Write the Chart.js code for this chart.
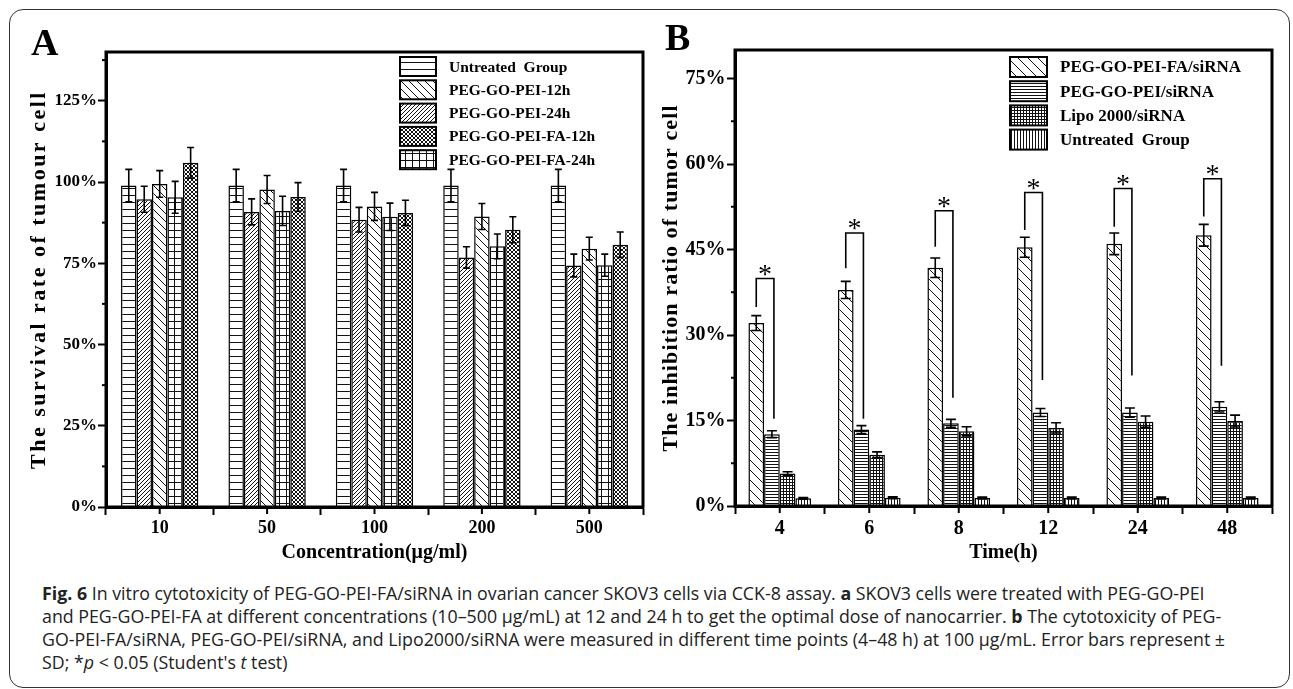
<!DOCTYPE html>
<html>
<head>
<meta charset="utf-8">
<script src="https://cdn.jsdelivr.net/npm/chart.js@4.4.1/dist/chart.umd.min.js"></script>
<style>
  html, body { margin: 0; padding: 0; background: #fff; }
  body { width: 1293px; height: 689px; position: relative; overflow: hidden; }
  #frame { position: absolute; left: 9px; top: 9px; width: 1281px; height: 679px; box-sizing: border-box;
           border: 1.5px solid #333; border-radius: 14px; }
  #chartA { position: absolute; left: 0; top: 0; }
  #chartB { position: absolute; left: 640px; top: 0; }
  #caption { position: absolute; left: 42px; top: 582px; font-family: "Open Sans", sans-serif; font-size: 17.8px;
             line-height: 23px; color: #222; white-space: nowrap; }
</style>
</head>
<body>
<div id="frame"></div>
<canvas id="chartA" width="650" height="580"></canvas>
<canvas id="chartB" width="653" height="580"></canvas>
<div id="caption">
<b>Fig. 6</b> In vitro cytotoxicity of PEG-GO-PEI-FA/siRNA in ovarian cancer SKOV3 cells via CCK-8 assay. <b>a</b> SKOV3 cells were treated with PEG-GO-PEI<br>
and PEG-GO-PEI-FA at different concentrations (10–500 μg/mL) at 12 and 24 h to get the optimal dose of nanocarrier. <b>b</b> The cytotoxicity of PEG-<br>
GO-PEI-FA/siRNA, PEG-GO-PEI/siRNA, and Lipo2000/siRNA were measured in different time points (4–48 h) at 100 μg/mL. Error bars represent ±<br>
SD; *<i>p</i> &lt; 0.05 (Student's <i>t</i> test)
</div>
<script>
// ---- panel A data (survival rate, %)
const concLabels = ['10', '50', '100', '200', '500'];
const untreatedA = [98.9, 98.9, 98.9, 98.9, 98.9];
const untreatedAErr = [5.0, 5.0, 5.0, 5.0, 5.0];
const pei24h = [94.7, 90.8, 88.4, 76.8, 74.3];
const pei24hErr = [4.0, 4.0, 3.8, 3.3, 3.5];
const pei12h = [99.4, 97.7, 92.5, 89.4, 79.5];
const pei12hErr = [4.1, 4.3, 4.3, 4.0, 3.5];
const fa24h = [95.3, 91.1, 89.3, 80.2, 74.4];
const fa24hErr = [4.9, 4.5, 4.2, 3.8, 3.4];
const fa12h = [105.9, 95.4, 90.5, 85.3, 80.7];
const fa12hErr = [4.7, 4.4, 3.9, 4.0, 3.9];

// ---- panel B data (inhibition ratio, %)
const timeLabels = ['4', '6', '8', '12', '24', '48'];
const faSiRNA = [32.1, 37.9, 41.8, 45.4, 46.0, 47.5];
const faSiRNAErr = [1.3, 1.5, 1.7, 1.75, 1.9, 1.9];
const peiSiRNA = [12.6, 13.4, 14.5, 16.4, 16.4, 17.4];
const peiSiRNAErr = [0.6, 0.7, 0.7, 0.7, 0.8, 0.9];
const lipoSiRNA = [5.7, 9.0, 13.1, 13.7, 14.8, 14.9];
const lipoSiRNAErr = [0.3, 0.5, 0.8, 0.9, 1.0, 1.05];
const untreatedB = [1.35, 1.45, 1.4, 1.4, 1.4, 1.4];
const untreatedBErr = [0.15, 0.15, 0.15, 0.15, 0.15, 0.15];
// significance brackets: top of bracket, bottom of left leg, bottom of right leg
const sigTop = [39.9, 47.9, 51.8, 55.0, 55.7, 57.4];
const sigLeft = [34.9, 41.7, 45.5, 48.4, 49.0, 50.8];
const sigRight = [15.3, 15.3, 19.0, 22.1, 22.9, 24.6];

function makePattern(kind, w, h) {
  h = h || w;
  const c = document.createElement('canvas');
  c.width = w; c.height = h;
  const g = c.getContext('2d');
  g.fillStyle = '#fff';
  g.fillRect(0, 0, w, h);
  g.strokeStyle = '#111';
  g.lineWidth = 1;
  g.beginPath();
  if (kind === 'h' || kind === 'grid') { g.moveTo(0, h - 0.5); g.lineTo(w, h - 0.5); }
  if (kind === 'v' || kind === 'grid') { g.moveTo(w - 0.5, 0); g.lineTo(w - 0.5, h); }
  if (kind === 'back' || kind === 'cross') {
    g.moveTo(-1, -1); g.lineTo(w + 1, h + 1);
    g.moveTo(-1, h - 1); g.lineTo(1, h + 1);
    g.moveTo(w - 1, -1); g.lineTo(w + 1, 1);
  }
  if (kind === 'fwd' || kind === 'cross') {
    g.moveTo(-1, h + 1); g.lineTo(w + 1, -1);
    g.moveTo(-1, 1); g.lineTo(1, -1);
    g.moveTo(w - 1, h + 1); g.lineTo(w + 1, h - 1);
  }
  g.stroke();
  return g.createPattern(c, 'repeat');
}

const serif = '"Liberation Serif", "Times New Roman", serif';
Chart.defaults.font.family = serif;
Chart.defaults.color = '#000';

// error bars, frame, minor ticks, y title, panel letter, legend
const decor = {
  id: 'decor',
  afterDatasetsDraw(chart, args, o) {
    const { ctx, scales: { y } } = chart;
    ctx.save();
    ctx.strokeStyle = '#000';
    ctx.lineWidth = 1.6;
    chart.data.datasets.forEach((ds, i) => {
      chart.getDatasetMeta(i).data.forEach((bar, j) => {
        const v = ds.data[j], e = ds.errorValues[j];
        const t = y.getPixelForValue(v + e), b = y.getPixelForValue(v - e);
        ctx.beginPath();
        ctx.moveTo(bar.x, t); ctx.lineTo(bar.x, b);
        ctx.moveTo(bar.x - o.cap, t); ctx.lineTo(bar.x + o.cap, t);
        ctx.moveTo(bar.x - o.cap, b); ctx.lineTo(bar.x + o.cap, b);
        ctx.stroke();
      });
    });
    ctx.restore();
  },
  afterDraw(chart, args, o) {
    const { ctx, chartArea: a, scales: { x, y } } = chart;
    ctx.save();
    ctx.strokeStyle = '#000';
    ctx.lineWidth = 3;
    ctx.strokeRect(a.left, a.top, a.right - a.left, a.bottom - a.top);
    ctx.lineWidth = 2;
    for (let v = o.minorStep; v < y.max; v += o.minorStep * 2) {
      const py = y.getPixelForValue(v);
      ctx.beginPath(); ctx.moveTo(a.left - 4, py); ctx.lineTo(a.left, py); ctx.stroke();
    }
    x.ticks.forEach((t, i) => {
      const px = x.getPixelForTick(i);
      ctx.beginPath(); ctx.moveTo(px, a.bottom); ctx.lineTo(px, a.bottom + 7); ctx.stroke();
    });
    // y title
    ctx.fillStyle = '#000';
    ctx.save();
    ctx.translate(o.titleX, (a.top + a.bottom) / 2);
    ctx.rotate(-Math.PI / 2);
    ctx.font = 'bold 22px ' + serif;
    ctx.letterSpacing = o.titleSpacing;
    ctx.textAlign = 'center';
    ctx.textBaseline = 'middle';
    ctx.fillText(o.yTitle, 0, 0);
    ctx.restore();
    // panel letter
    ctx.font = 'bold 38px ' + serif;
    ctx.textBaseline = 'alphabetic';
    ctx.fillText(o.letter, o.letterX, o.letterY);
    // legend
    const L = o.legend;
    ctx.font = 'bold ' + L.fontSize + 'px ' + serif;
    ctx.textBaseline = 'middle';
    L.order.forEach((di, k) => {
      const ds = chart.data.datasets[di];
      const bx = a.right - L.fromRight, by = a.top + L.top + k * L.rowH;
      ctx.fillStyle = ds.backgroundColor;
      ctx.fillRect(bx, by, L.boxW, L.boxH);
      ctx.lineWidth = 2;
      ctx.strokeRect(bx, by, L.boxW, L.boxH);
      ctx.fillStyle = '#000';
      ctx.fillText(ds.label, bx + L.boxW + L.gap, by + L.boxH / 2 + 1);
    });
    ctx.restore();
  }
};

const brackets = {
  id: 'brackets',
  afterDatasetsDraw(chart) {
    const { ctx, scales: { y } } = chart;
    const m0 = chart.getDatasetMeta(0), m1 = chart.getDatasetMeta(1);
    ctx.save();
    ctx.strokeStyle = '#000';
    ctx.fillStyle = '#000';
    ctx.lineWidth = 1.6;
    sigTop.forEach((top, j) => {
      const xl = m0.data[j].x, xr = m1.data[j].x + 2;
      const yt = y.getPixelForValue(top);
      ctx.beginPath();
      ctx.moveTo(xl, y.getPixelForValue(sigLeft[j]));
      ctx.lineTo(xl, yt);
      ctx.lineTo(xr, yt);
      ctx.lineTo(xr, y.getPixelForValue(sigRight[j]));
      ctx.stroke();
      ctx.font = '28px ' + serif;
      ctx.textAlign = 'center';
      ctx.textBaseline = 'alphabetic';
      ctx.fillText('*', (xl + xr) / 2, yt + 4);
    });
    ctx.restore();
  }
};

function yAxis(max, step, width, size, pad) {
  return {
    min: 0, max: max,
    afterFit: s => { s.width = width; },
    border: { display: true, width: 3, color: '#000' },
    grid: { drawOnChartArea: false, tickLength: 8, tickWidth: 2, tickColor: '#000' },
    ticks: { stepSize: step, includeBounds: false, padding: pad, color: '#000',
             font: { size: size, weight: 'bold' }, callback: v => v + '%' }
  };
}
function xAxis(height, title, size) {
  return {
    afterFit: s => { s.height = height; },
    border: { display: true, width: 3, color: '#000' },
    grid: { drawOnChartArea: false, offset: true, tickLength: 8, tickWidth: 2, tickColor: '#000' },
    ticks: { padding: 3, color: '#000', font: { size: size, weight: 'bold' } },
    title: { display: true, text: title, color: '#000', padding: { top: 0, bottom: 15 },
             font: { size: 20, weight: 'bold' } }
  };
}

function barSet(label, data, err, pattern) {
  return { label: label, data: data, errorValues: err, backgroundColor: pattern,
           borderColor: '#000', borderWidth: 1.5 };
}

new Chart(document.getElementById('chartA'), {
  type: 'bar',
  data: {
    labels: concLabels,
    datasets: [
      barSet('Untreated  Group', untreatedA, untreatedAErr, makePattern('h', 7)),
      barSet('PEG-GO-PEI-24h', pei24h, pei24hErr, makePattern('fwd', 4)),
      barSet('PEG-GO-PEI-12h', pei12h, pei12hErr, makePattern('back', 8)),
      barSet('PEG-GO-PEI-FA-24h', fa24h, fa24hErr, makePattern('grid', 7)),
      barSet('PEG-GO-PEI-FA-12h', fa12h, fa12hErr, makePattern('cross', 4))
    ]
  },
  options: {
    responsive: false,
    animation: false,
    devicePixelRatio: 1,
    categoryPercentage: 0.72,
    barPercentage: 1,
    layout: { padding: { top: 52, right: 7, left: 0, bottom: 0 } },
    scales: { x: xAxis(73, 'Concentration(μg/ml)', 18), y: yAxis(140, 25, 106, 17, 1) },
    plugins: {
      legend: { display: false },
      tooltip: { enabled: false },
      decor: {
        cap: 3.5, minorStep: 12.5, titleX: 39, titleSpacing: '2.5px',
        yTitle: 'The survival rate of tumour cell', letter: 'A', letterX: 31, letterY: 55,
        legend: { order: [0, 2, 1, 4, 3], fromRight: 243, top: 5, rowH: 23.3, boxW: 36, boxH: 19,
                  gap: 13, fontSize: 15.5 }
      }
    }
  },
  plugins: [decor]
});

new Chart(document.getElementById('chartB'), {
  type: 'bar',
  data: {
    labels: timeLabels,
    datasets: [
      barSet('PEG-GO-PEI-FA/siRNA', faSiRNA, faSiRNAErr, makePattern('back', 10)),
      barSet('PEG-GO-PEI/siRNA', peiSiRNA, peiSiRNAErr, makePattern('h', 3, 3)),
      barSet('Lipo 2000/siRNA', lipoSiRNA, lipoSiRNAErr, makePattern('grid', 3)),
      barSet('Untreated  Group', untreatedB, untreatedBErr, makePattern('v', 3, 3))
    ]
  },
  options: {
    responsive: false,
    animation: false,
    devicePixelRatio: 1,
    categoryPercentage: 0.70,
    barPercentage: 1,
    layout: { padding: { top: 50, right: 21, left: 0, bottom: 0 } },
    scales: { x: xAxis(74, 'Time(h)', 20), y: yAxis(80, 15, 95, 20, 1.5) },
    plugins: {
      legend: { display: false },
      tooltip: { enabled: false },
      decor: {
        cap: 5, minorStep: 7.5, titleX: 31, titleSpacing: '1.1px',
        yTitle: 'The inhibition ratio of tumor cell', letter: 'B', letterX: 25, letterY: 50,
        legend: { order: [0, 1, 2, 3], fromRight: 262, top: 7, rowH: 24.2, boxW: 37, boxH: 20,
                  gap: 13, fontSize: 17 }
      }
    }
  },
  plugins: [decor, brackets]
});
</script>
</body>
</html>
